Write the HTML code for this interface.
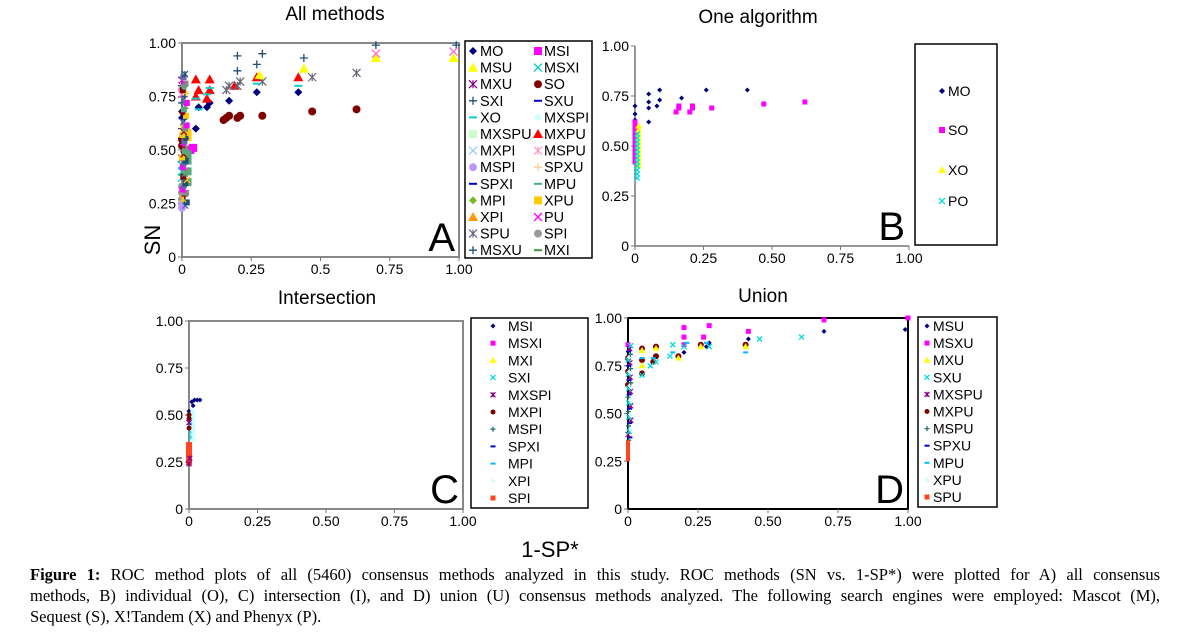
<!DOCTYPE html>
<html><head><meta charset="utf-8">
<style>
html,body{margin:0;background:#fff;width:1188px;height:636px;overflow:hidden}
body{position:relative}
svg{position:absolute;left:0;top:0}
.cap{position:absolute;left:30px;width:1130px;font-family:"Liberation Serif",serif;font-size:16.5px;line-height:21px;color:#000;top:564px;text-align:justify}
.cap p{margin:0;text-align-last:justify;white-space:nowrap}
.cap p.l{text-align-last:left}
</style></head><body>
<svg id="s" width="1188" height="636" xmlns="http://www.w3.org/2000/svg" font-family="Liberation Sans, sans-serif">
<g font-size="19" text-anchor="middle">
<text x="335" y="20">All methods</text>
<text x="758" y="23">One algorithm</text>
<text x="327" y="304">Intersection</text>
<text x="763" y="302">Union</text>
<text x="550" y="557" font-size="22">1-SP*</text>
<text transform="translate(160,240) rotate(-90)" font-size="22">SN</text>
</g>
</svg>
<div class="cap">
<p><b>Figure 1:</b> ROC method plots of all (5460) consensus methods analyzed in this study. ROC methods (SN vs. 1-SP*) were plotted for A) all consensus</p>
<p>methods, B) individual (O), C) intersection (I), and D) union (U) consensus methods analyzed. The following search engines were employed: Mascot (M),</p>
<p class="l">Sequest (S), X!Tandem (X) and Phenyx (P).</p>
</div>
<script>
const S=document.getElementById('s');let h='';
function mk(t,x,y,c,r){r=r||3;
 if(t=='d')return `<polygon points="${x},${y-r} ${x+r},${y} ${x},${y+r} ${x-r},${y}" fill="${c}"/>`;
 if(t=='s')return `<rect x="${x-r}" y="${y-r}" width="${2*r}" height="${2*r}" fill="${c}"/>`;
 if(t=='t')return `<polygon points="${x},${y-r-1} ${x+r+1},${y+r} ${x-r-1},${y+r}" fill="${c}"/>`;
 if(t=='c')return `<circle cx="${x}" cy="${y}" r="${r}" fill="${c}"/>`;
 if(t=='x')return `<path d="M${x-r} ${y-r}L${x+r} ${y+r}M${x-r} ${y+r}L${x+r} ${y-r}" stroke="${c}" stroke-width="1.3"/>`;
 if(t=='p')return `<path d="M${x-r} ${y}H${x+r}M${x} ${y-r}V${y+r}" stroke="${c}" stroke-width="1.3"/>`;
 if(t=='a')return `<path d="M${x-r} ${y-r}L${x+r} ${y+r}M${x-r} ${y+r}L${x+r} ${y-r}M${x} ${y-r}V${y+r}" stroke="${c}" stroke-width="1.2"/>`;
 if(t=='m')return `<path d="M${x-r} ${y}H${x+r}" stroke="${c}" stroke-width="2"/>`;
 return '';}
function axes(x0,x1,y0,y1,frame,labs,xl){
 let g='';
 if(frame)g+=`<rect x="${x0}" y="${y1}" width="${x1-x0}" height="${y0-y1}" fill="none" stroke="${frame}" stroke-width="2"/>`;
 else g+=`<path d="M${x0} ${y1}V${y0}H${x1}" stroke="#777" fill="none" stroke-width="1.5"/>`;
 const yl=['0','0.25','0.50','0.75','1.00'];
 for(let i=0;i<5;i++){let y=y0-(y0-y1)*i/4;g+=`<line x1="${x0-4}" x2="${x0}" y1="${y}" y2="${y}" stroke="#777"/><text x="${x0-6}" y="${y+5}" text-anchor="end" font-size="14">${yl[i]}</text>`;
 let x=x0+(x1-x0)*i/4;g+=`<line x1="${x}" x2="${x}" y1="${y0}" y2="${y0+4}" stroke="#777"/><text x="${x}" y="${y0+17}" text-anchor="middle" font-size="14">${xl[i]}</text>`;}
 g+=`<text x="${x1-4}" y="${y0-6}" text-anchor="end" font-size="40">${labs}</text>`;
 return g;}
function P(x0,x1,y0,y1){return (a,b)=>[x0+(x1-x0)*a,y0-(y0-y1)*b];}
function pts(F,t,c,arr,r){arr.forEach(([a,b])=>{const q=F(a,b);h+=mk(t,q[0],q[1],c,r)});}
function col(a,b0,b1,st){const o=[];for(let i=0;b0+i*st<=b1;i++)o.push([a,b0+i*st]);return o;}
const XL=['0','0.25','0.50','0.75','1.00'];
// Panel A
h+=axes(182,459,257,43,'#888','A',['0','0.25','0.5','0.75','1.00']);
const A=P(182,459,257,43);
const ptsA=[['d','#000080',[[0.05,.6],[.06,.7],[.09,.7],[.1,.72],[.17,.73],[.27,.77],[.42,.77],[0,.68],[0,.65]]],
['c','#800000',[[.15,.64],[.16,.65],[.17,.66],[.2,.65],[.21,.66],[.29,.66],[.47,.68],[.63,.69],[0,.52],[0,.55]]],
['t','#f00',[[.05,.83],[.05,.75],[.06,.78],[.1,.83],[.1,.78],[.09,.74],[.19,.8],[.27,.84],[.42,.84]]],
['p','#1f4e79',[[0,.84],[0,.8],[.2,.94],[.2,.87],[.29,.95],[.27,.9],[.44,.93],[.7,.99],[.99,.99],[0,.6],[0,.72]]],
['a','#667',[[.16,.78],[.17,.8],[.2,.8],[.21,.82],[.29,.82],[.47,.84],[.63,.86],[0,.46]]],
['t','#ff0',[[.7,.93],[.98,.93],[.44,.88],[.28,.85]]],
['x','#f6c',[[.7,.95],[.98,.96],[0,.8],[0,.76]]],
['m','#1cc',[[.05,.74],[.06,.69],[.09,.76],[.1,.79],[.27,.81],[.42,.8]]],
['s','#f0f',[[.04,.51],[.03,.5]]],['s','#fc0',[[.02,.58],[.01,.6],[.02,.56]]],
['s','#5a7',[[.02,.45],[.02,.4],[.02,.35],[.02,.48]]],['c','#999',[[0,.27],[0,.3],[0,.33],[0,.25]]],
['c','#b9f',[[0,.23],[0,.25]]],['x','#0cc',[[0,.4],[0,.43],[0,.37]]]];
for(const [t,c,ps] of ptsA)pts(A,t,c,ps,4);
for(let b=.24;b<.86;b+=.015){const q=A(0,b);const cs=['#888','#f0f','#66a','#1f4e79','#fc0','#800000','#5a7'];h+=mk(['x','s','a','p','s','c','s'][Math.floor(b*60)%7],q[0]+(b*97%5),q[1],cs[Math.floor(b*70)%7],3);}
h+=`<rect x="465" y="41" width="127" height="217" fill="#fff" stroke="#000" stroke-width="1.5"/>`;
const LA=[['d','#000080','MO','s','#f0f','MSI'],['t','#ff0','MSU','x','#0cc','MSXI'],['a','#808','MXU','c','#800000','SO'],['p','#1f4e79','SXI','m','#00c','SXU'],['m','#1cc','XO','d','#cff','MXSPI'],['s','#cfc','MXSPU','t','#f00','MXPU'],['x','#9cf','MXPI','a','#f9c','MSPU'],['c','#b9f','MSPI','p','#fc9','SPXU'],['m','#00c','SPXI','m','#4a9','MPU'],['d','#7b2','MPI','s','#fc0','XPU'],['t','#f90','XPI','x','#f0f','PU'],['a','#668','SPU','c','#999','SPI'],['p','#1f4e79','MSXU','m','#393','MXI']];
LA.forEach((r,i)=>{let y=51+i*16.6;h+=mk(r[0],473,y,r[1],4)+`<text x="480" y="${y+5}" font-size="14.5">${r[2]}</text>`+mk(r[3],538,y,r[4],4)+`<text x="544" y="${y+5}" font-size="14.5">${r[5]}</text>`;});
// Panel B
h+=axes(635,909,246,46,null,'B',XL);
const B=P(635,909,246,46);
pts(B,'d','#000080',[[0,.7],[0,.66],[0,.63],[.05,.76],[.05,.72],[.05,.69],[.05,.62],[.09,.78],[.09,.73],[.08,.7],[.17,.74],[.26,.78],[.41,.78]],2.5);
pts(B,'s','#f0f',[[.15,.67],[.16,.69],[.16,.7],[.2,.67],[.21,.69],[.21,.7],[.28,.69],[.47,.71],[.62,.72]],2.5);
pts(B,'s','#f0f',col(0,.42,.62,.02),2.5);
pts(B,'t','#ff0',col(.013,.4,.61,.02),2.5);
pts(B,'x','#0dd',col(.008,.34,.57,.02),2.5);
h+=`<rect x="915" y="44" width="82" height="201" fill="#fff" stroke="#000" stroke-width="1.5"/>`;
[['d','#000080','MO',91],['s','#f0f','SO',130],['t','#ff0','XO',170],['x','#0dd','PO',201]].forEach(r=>{h+=mk(r[0],942,r[3],r[1],3)+`<text x="948" y="${r[3]+5}" font-size="14">${r[2]}</text>`});
// Panel C
h+=axes(189,463,509,321,'#888','C',XL);
const C=P(189,463,509,321);
pts(C,'d','#000080',[[.01,.57],[.02,.58],[.03,.58],[.04,.58],[.015,.55],[0,.5],[0,.52]],2.5);
pts(C,'s','#f42',col(0,.25,.35,.015),3);
pts(C,'x','#0dd',col(.01,.38,.5,.02),2.5);
pts(C,'d','#cff',col(.015,.37,.52,.025),3);
pts(C,'c','#800000',[[0,.5],[0,.48],[0,.43]],2.5);
pts(C,'a','#808',[[0,.24],[.003,.27],[0,.46]],2.5);
h+=`<rect x="471" y="318" width="117" height="190" fill="#fff" stroke="#000" stroke-width="1.5"/>`;
[['d','#000080','MSI'],['s','#f0f','MSXI'],['t','#ff0','MXI'],['x','#0dd','SXI'],['a','#808','MXSPI'],['c','#800000','MXPI'],['p','#277','MSPI'],['m','#00c','SPXI'],['m','#0bf','MPI'],['d','#cff','XPI'],['s','#f42','SPI']].forEach((r,i)=>{let y=326+i*17.2;h+=mk(r[0],493,y,r[1],2.5)+`<text x="508" y="${y+5}" font-size="14">${r[2]}</text>`});
// Panel D
h+=axes(628,908,509,318,'#000','D',XL);
const D=P(628,908,509,318);
pts(D,'d','#000080',[[.2,.82],[.28,.85],[.29,.87],[.43,.89],[.7,.93],[.99,.94]],2.5);
pts(D,'s','#f0f',[[0,.86],[.2,.95],[.2,.9],[.29,.96],[.27,.9],[.43,.93],[.7,.99],[1,1],[.2,.86]],2.5);
pts(D,'c','#800000',[[.05,.84],[.05,.78],[.05,.71],[.09,.77],[.1,.8],[.1,.85],[.18,.8],[.26,.86],[.42,.86],[0,.79],[0,.72],[0,.65]],3);
pts(D,'t','#ff0',[[.05,.83],[.05,.75],[.1,.84],[.18,.79],[.26,.85],[.42,.85]],2.5);
pts(D,'x','#0dd',[[.15,.8],[.16,.86],[.2,.85],[.29,.85],[.47,.89],[.62,.9],[.05,.7],[.08,.75],[.1,.77]],2.5);
pts(D,'m','#0bf',[[.16,.82],[.21,.87],[.28,.87],[.42,.82],[.05,.79],[.09,.79]],2.5);
for(let b=.36;b<.86;b+=.015){const q=D(0,b);h+=mk(['a','x','d','p','m'][Math.floor(b*66)%5],q[0]+(b*77%3),q[1],['#808','#0dd','#cff','#277','#00c'][Math.floor(b*66)%5],2.5);}
{const ya=D(0,.36)[1],yb=D(0,.25)[1];h+=`<rect x="626" y="${ya}" width="4" height="${yb-ya}" fill="#f42"/>`;}
h+=`<rect x="918" y="317" width="79" height="190" fill="#fff" stroke="#000" stroke-width="1.5"/>`;
[['d','#000080','MSU'],['s','#f0f','MSXU'],['t','#ff0','MXU'],['x','#0dd','SXU'],['a','#808','MXSPU'],['c','#800000','MXPU'],['p','#277','MSPU'],['m','#00c','SPXU'],['m','#0bf','MPU'],['d','#cff','XPU'],['s','#f42','SPU']].forEach((r,i)=>{let y=326+i*17.1;h+=mk(r[0],927,y,r[1],2.5)+`<text x="933" y="${y+5}" font-size="14">${r[2]}</text>`});
S.insertAdjacentHTML('beforeend',h);
</script>
</body></html>
